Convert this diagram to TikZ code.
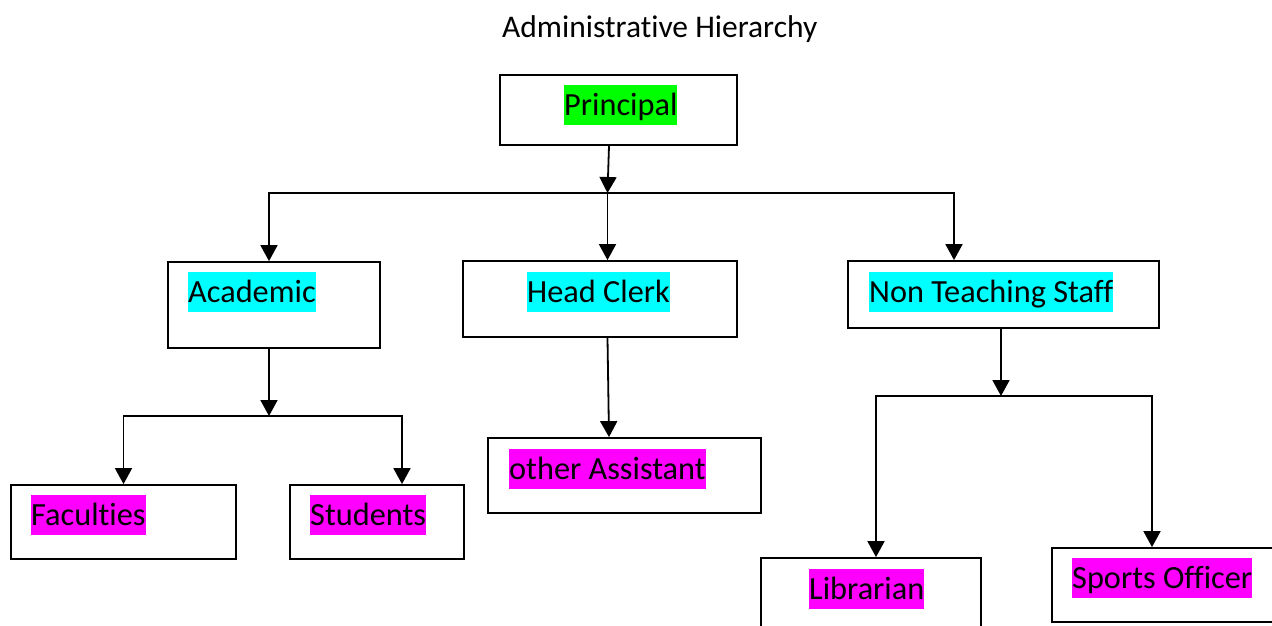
\documentclass[tikz,border=0pt]{standalone}
\usepackage{fontspec}
\setmainfont{Carlito}[Ligatures={NoCommon}]
\usetikzlibrary{arrows.meta}
\definecolor{hlgreen}{HTML}{00FF00}
\definecolor{hlcyan}{HTML}{00FFFF}
\definecolor{hlmag}{HTML}{FF00FF}
\tikzset{
  box/.style={draw=black, line width=1.8pt, rectangle, inner sep=0pt, fill=white},
  lbl/.style={inner sep=0pt, anchor=base west, text height=30.5pt, text depth=9.5pt, font=\fontsize{32.3}{38}\selectfont},
  ttl/.style={inner sep=0pt, anchor=base west, font=\fontsize{31.5}{38}\selectfont},
  arr/.style={line width=1.8pt, -{Triangle[width=17pt,length=16pt]}}
}
\begin{document}
\begin{tikzpicture}[x=1pt,y=-1pt]
\useasboundingbox (0,0) rectangle (1272,625);
\clip (0,0) rectangle (1272,625);
\fill[white] (0,0) rectangle (1272,625);

% title
\node[ttl] (title) at (502,37.5) {Administrative Hierarchy};

% boxes
\node[box, minimum width=237pt, minimum height=70pt] (principal) at (618.5,110) {};
\node[box, minimum width=212pt, minimum height=86pt] (academic) at (274,305) {};
\node[box, minimum width=274pt, minimum height=76pt] (headclerk) at (600,299) {};
\node[box, minimum width=311pt, minimum height=67pt] (nonteach) at (1003.5,294.5) {};
\node[box, minimum width=225pt, minimum height=74pt] (faculties) at (123.5,522) {};
\node[box, minimum width=174pt, minimum height=74pt] (students) at (377,522) {};
\node[box, minimum width=273pt, minimum height=75pt] (otherasst) at (624.5,475.5) {};
\node[box, minimum width=220pt, minimum height=82pt] (librarian) at (871,599) {};
\node[box, minimum width=238pt, minimum height=74pt] (sports) at (1171,585) {};

% labels
\node[lbl, fill=hlgreen] (principal-t) at (564,115.5) {Principal};
\node[lbl, fill=hlcyan] (academic-t) at (188,302.5) {Academic};
\node[lbl, fill=hlcyan] (headclerk-t) at (527,302.5) {Head Clerk};
\node[lbl, fill=hlcyan] (nonteach-t) at (869,302.5) {Non Teaching Staff};
\node[lbl, fill=hlmag] (faculties-t) at (31,525.5) {Faculties};
\node[lbl, fill=hlmag] (students-t) at (310,525.5) {Students};
\node[lbl, fill=hlmag] (otherasst-t) at (509,479.5) {other Assistant};
\node[lbl, fill=hlmag] (librarian-t) at (809,599.5) {Librarian};
\node[lbl, fill=hlmag] (sports-t) at (1072,588.5) {Sports Officer};

% junctions
\coordinate (j1) at (607.5,193);
\coordinate (j2) at (269,416);
\coordinate (j3) at (1001,396);

% connectors
\draw[arr] ([xshift=-9.5pt]principal.south) -- (j1);
\draw[arr] (j1) -| ([xshift=-5pt]academic.north);
\draw[arr] (j1) -- ([xshift=7.5pt]headclerk.north);
\draw[arr] (j1) -| ([xshift=-49.5pt]nonteach.north);

\draw[arr] ([xshift=-5pt]academic.south) -- (j2);
\draw[arr] (j2) -| (faculties.north);
\draw[arr] (j2) -| ([xshift=25pt]students.north);

\draw[arr] ([xshift=7.5pt]headclerk.south) -- ([xshift=-15.5pt]otherasst.north);

\draw[arr] ([xshift=-2.5pt]nonteach.south) -- (j3);
\draw[arr] (j3) -| ([xshift=5pt]librarian.north);
\draw[arr] (j3) -| ([xshift=-19pt]sports.north);
\end{tikzpicture}
\end{document}
